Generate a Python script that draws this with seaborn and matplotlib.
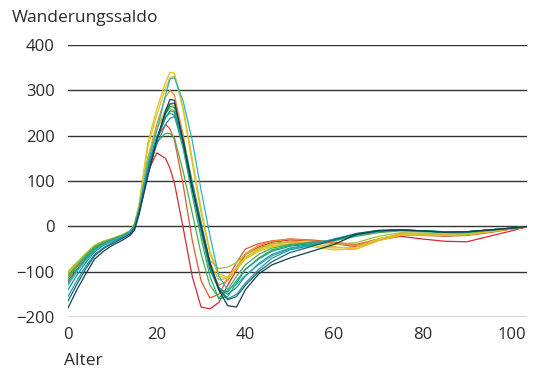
import matplotlib
matplotlib.use("Agg")
import matplotlib.pyplot as plt
import seaborn as sns
import pandas as pd

# ages (x) shared by every line
ages = [0, 2, 4, 6, 8, 10, 12, 14, 15, 16, 18, 20, 22, 23, 24, 26, 28, 30, 32, 34,
        36, 38, 40, 43, 46, 50, 55, 60, 65, 70, 75, 80, 85, 90, 95, 100, 104]

# net migration by age, one list per line
red = [-120, -95, -72, -50, -38, -30, -22, -12, 2, 35, 120, 162, 150, 128, 95, -5, -110, -178, -182, -168,
       -130, -97, -62, -46, -35, -30, -32, -38, -45, -30, -22, -28, -33, -34, -22, -10, 0]
vermilion = [-110, -88, -66, -46, -36, -29, -21, -11, 3, 38, 135, 195, 225, 215, 190, 90, -30, -120, -158, -150,
             -115, -80, -50, -38, -32, -28, -30, -35, -40, -28, -18, -20, -22, -20, -14, -6, 0]
orange = [-105, -84, -63, -44, -34, -28, -20, -10, 4, 40, 150, 225, 285, 300, 290, 200, 90, -10, -95, -130,
          -120, -90, -60, -42, -33, -28, -32, -38, -42, -28, -18, -19, -20, -18, -12, -5, 0]
amber = [-102, -82, -62, -43, -33, -27, -20, -10, 5, 42, 150, 215, 258, 270, 265, 190, 95, 0, -80, -118,
         -115, -92, -68, -50, -40, -35, -38, -45, -50, -32, -20, -19, -20, -18, -12, -5, 0]
yellow = [-100, -80, -60, -42, -33, -27, -20, -10, 6, 48, 185, 258, 318, 340, 338, 255, 140, 30, -60, -110,
          -115, -95, -72, -55, -45, -40, -45, -52, -50, -30, -18, -18, -20, -18, -12, -5, 0]
yellow2 = [-104, -83, -62, -43, -34, -28, -20, -11, 5, 45, 175, 245, 305, 328, 332, 260, 150, 40, -55, -105,
           -112, -92, -70, -52, -42, -38, -42, -48, -46, -28, -16, -17, -19, -17, -11, -5, 0]
olive = [-100, -80, -60, -42, -33, -27, -20, -11, 4, 40, 150, 215, 250, 260, 255, 180, 90, 0, -75, -93,
         -90, -80, -62, -48, -38, -33, -36, -40, -36, -22, -14, -15, -17, -15, -10, -5, 0]
green = [-108, -86, -64, -45, -35, -28, -21, -11, 3, 38, 135, 185, 205, 205, 195, 120, 30, -60, -130, -158,
         -140, -110, -85, -62, -48, -40, -36, -32, -22, -14, -10, -12, -14, -14, -9, -4, 0]
green2 = [-115, -90, -68, -48, -37, -30, -22, -12, 2, 36, 130, 195, 240, 250, 245, 170, 70, -25, -110, -160,
          -155, -125, -95, -70, -52, -42, -35, -30, -20, -12, -9, -10, -12, -12, -8, -4, 0]
teal_green = [-125, -97, -72, -51, -39, -31, -23, -13, 1, 34, 128, 195, 248, 265, 262, 185, 85, -10, -95, -140,
              -145, -120, -95, -72, -55, -44, -38, -30, -18, -10, -8, -10, -12, -12, -8, -4, 0]
teal = [-140, -108, -80, -56, -42, -33, -24, -14, 0, 32, 125, 192, 240, 255, 252, 180, 85, -5, -90, -135,
        -150, -135, -110, -82, -62, -48, -40, -30, -18, -10, -8, -10, -13, -12, -8, -4, 0]
cyan = [-130, -100, -75, -53, -40, -32, -23, -13, 1, 35, 140, 210, 290, 325, 328, 275, 190, 80, -20, -110,
        -140, -128, -108, -85, -65, -50, -40, -28, -18, -10, -8, -10, -12, -12, -8, -4, 0]
blue_teal = [-155, -120, -88, -62, -47, -36, -26, -15, -2, 30, 120, 180, 225, 238, 242, 190, 100, 10, -80, -135,
             -160, -150, -125, -95, -70, -52, -42, -28, -16, -9, -8, -10, -13, -12, -8, -4, 0]
dark_teal = [-165, -128, -94, -65, -49, -38, -28, -17, -4, 28, 115, 190, 250, 270, 272, 190, 90, 0, -85, -138,
             -162, -155, -130, -100, -78, -58, -44, -30, -16, -9, -8, -10, -13, -12, -8, -4, 0]
navy = [-180, -140, -105, -72, -55, -42, -32, -20, -8, 25, 110, 188, 255, 280, 278, 185, 85, 0, -80, -140,
        -175, -178, -140, -105, -85, -70, -55, -40, -18, -10, -8, -10, -13, -12, -8, -4, 0]

series_names = ['red', 'vermilion', 'orange', 'amber', 'yellow', 'yellow2', 'olive', 'green',
                'green2', 'teal_green', 'teal', 'cyan', 'blue_teal', 'dark_teal', 'navy']
series_values = [red, vermilion, orange, amber, yellow, yellow2, olive, green,
                 green2, teal_green, teal, cyan, blue_teal, dark_teal, navy]
line_colors = ['#d8282f', '#e4572e', '#ee8a2b', '#f0b321', '#e3c21b', '#d6c52c', '#a8bf3c', '#4aae50',
               '#2fa866', '#1f9e80', '#179590', '#2bb0c2', '#2d8fb0', '#0f6a6c', '#153f52']

y_ticks = [-200, -100, 0, 100, 200, 300, 400]
x_ticks = [0, 20, 40, 60, 80, 100]

rows = []
for name, vals in zip(series_names, series_values):
    for a, v in zip(ages, vals):
        rows.append({'Alter': a, 'Saldo': v, 'Reihe': name})
df = pd.DataFrame(rows)

sns.set_style('white')
plt.rcParams['font.family'] = ['Open Sans', 'DejaVu Sans']
plt.rcParams['axes.unicode_minus'] = True

fig = plt.figure(figsize=(5.38, 3.74), dpi=100)
ax = fig.add_axes([68 / 538, 1 - 317 / 374, (527 - 68) / 538, (317 - 45) / 374])

for y in y_ticks:
    ax.axhline(y, color='#333333', lw=1.0, zorder=1)

sns.lineplot(data=df, x='Alter', y='Saldo', hue='Reihe', palette=dict(zip(series_names, line_colors)),
             estimator=None, legend=False, lw=0.9, ax=ax, zorder=2)

ax.set_xlim(0, 103.5)
ax.set_ylim(-200, 400)
ax.set_xticks(x_ticks)
ax.set_yticks(y_ticks)
ax.tick_params(axis='both', length=0, labelsize=12, colors='#2a2a2a')
ax.tick_params(axis='x', pad=7.5)
ax.tick_params(axis='y', pad=9.5)
for s in ax.spines.values():
    s.set_visible(False)
ax.set_xlabel('')
ax.set_ylabel('')

fig.text(12 / 538, 1 - 18 / 374, 'Wanderungssaldo', fontsize=12.5, color='#2a2a2a', va='center', ha='left')
fig.text(64 / 538, 1 - 361 / 374, 'Alter', fontsize=12.5, color='#2a2a2a', va='center', ha='left')

fig.savefig('out.png', dpi=100, facecolor='white')
